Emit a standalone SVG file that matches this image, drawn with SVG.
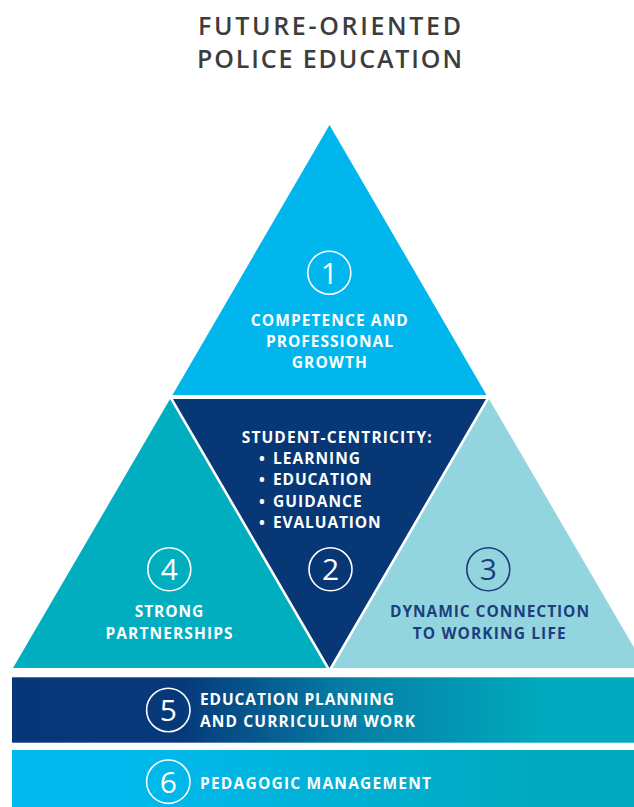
<svg xmlns="http://www.w3.org/2000/svg" width="634" height="807" viewBox="0 0 634 807">
<defs>
<linearGradient id="g5" gradientUnits="userSpaceOnUse" x1="12" y1="0" x2="634" y2="0">
<stop offset="0" stop-color="#07377a"/>
<stop offset="0.27" stop-color="#07397a"/>
<stop offset="0.55" stop-color="#0580a6"/>
<stop offset="0.85" stop-color="#00a9bd"/>
<stop offset="1" stop-color="#00a9bd"/>
</linearGradient>
<linearGradient id="g6" gradientUnits="userSpaceOnUse" x1="12" y1="0" x2="634" y2="0">
<stop offset="0" stop-color="#00b9ee"/>
<stop offset="0.25" stop-color="#00b8ea"/>
<stop offset="0.85" stop-color="#00a9be"/>
<stop offset="1" stop-color="#00a9bd"/>
</linearGradient>
</defs>
<style>
.title{font-family:"Open Sans","Liberation Sans",sans-serif;font-weight:600;font-size:25px;fill:#3d3d3d;text-anchor:middle}
.lbl{font-family:"Open Sans","Liberation Sans",sans-serif;font-weight:700;font-size:15.5px;fill:#ffffff}
.mid{text-anchor:middle}
.ring{fill:none;stroke:#ffffff;stroke-width:1.6}
.ringd{fill:none;stroke:#1d3e7a;stroke-width:1.6}
.num{font-family:"Open Sans","Liberation Sans",sans-serif;font-weight:400;font-size:30px;fill:#ffffff;text-anchor:middle}
.dark{fill:#1d3e7a}
</style>
<rect width="634" height="807" fill="#ffffff"/>
<g id="title">
<text class="title" x="329.5" y="35" textLength="263" lengthAdjust="spacing">FUTURE-ORIENTED</text>
<text class="title" x="329.5" y="68" textLength="265" lengthAdjust="spacing">POLICE EDUCATION</text>
</g>
<g id="node1">
<polygon points="329.5,125 486.5,395 172.5,395" fill="#00b6ed"/>
<circle class="ring" cx="329.3" cy="272.7" r="21.5"/>
<text class="num" x="329.3" y="283.5">1</text>
<text class="lbl mid" x="329.3" y="325.5" textLength="157" lengthAdjust="spacing">COMPETENCE AND</text>
<text class="lbl mid" x="329.5" y="347" textLength="127" lengthAdjust="spacing">PROFESSIONAL</text>
<text class="lbl mid" x="329.3" y="367.5" textLength="75" lengthAdjust="spacing">GROWTH</text>
</g>
<g id="node4">
<polygon points="170,399 326.5,668 13,668" fill="#00aebf"/>
<circle class="ring" cx="169.3" cy="569.3" r="21.5"/>
<text class="num" x="169.3" y="580.3">4</text>
<text class="lbl mid" x="169" y="617.3" textLength="68.6" lengthAdjust="spacing">STRONG</text>
<text class="lbl mid" x="169" y="639.3" textLength="127" lengthAdjust="spacing">PARTNERSHIPS</text>
</g>
<g id="node3">
<polygon points="489,399 646,668 332.5,668" fill="#93d5df"/>
<circle class="ringd" cx="488.3" cy="569.3" r="21.5"/>
<text class="num dark" x="488.3" y="580.3">3</text>
<text class="lbl mid dark" x="489.5" y="617.3" textLength="199" lengthAdjust="spacing">DYNAMIC CONNECTION</text>
<text class="lbl mid dark" x="489.2" y="639.3" textLength="153" lengthAdjust="spacing">TO WORKING LIFE</text>
</g>
<g id="node2">
<polygon points="173,399 486,399 329.5,668" fill="#073775"/>
<text class="lbl" x="241.7" y="443.3" textLength="190" lengthAdjust="spacing">STUDENT-CENTRICITY:</text>
<text class="lbl"><tspan x="259" y="464">•</tspan><tspan x="273" y="464" textLength="87" lengthAdjust="spacing">LEARNING</tspan></text>
<text class="lbl"><tspan x="259" y="485">•</tspan><tspan x="273" y="485" textLength="98.7" lengthAdjust="spacing">EDUCATION</tspan></text>
<text class="lbl"><tspan x="259" y="506.5">•</tspan><tspan x="273" y="506.5" textLength="88.7" lengthAdjust="spacing">GUIDANCE</tspan></text>
<text class="lbl"><tspan x="259" y="527.5">•</tspan><tspan x="273" y="527.5" textLength="107.7" lengthAdjust="spacing">EVALUATION</tspan></text>
<circle class="ring" cx="330.5" cy="569.3" r="21.5"/>
<text class="num" x="330.5" y="580.3">2</text>
</g>
<g id="node5">
<rect x="12" y="677.3" width="622" height="65.4" fill="url(#g5)"/>
<circle class="ring" cx="168.3" cy="710" r="21.7"/>
<text class="num" x="168.3" y="721">5</text>
<text class="lbl" x="200" y="705" textLength="194" lengthAdjust="spacing">EDUCATION PLANNING</text>
<text class="lbl" x="200" y="726.7" textLength="215" lengthAdjust="spacing">AND CURRICULUM WORK</text>
</g>
<g id="node6">
<rect x="12" y="750" width="622" height="57" fill="url(#g6)"/>
<circle class="ring" cx="168.3" cy="781.7" r="21.7"/>
<text class="num" x="168.3" y="792.7">6</text>
<text class="lbl" x="200" y="789.3" textLength="231" lengthAdjust="spacing">PEDAGOGIC MANAGEMENT</text>
</g>
</svg>
